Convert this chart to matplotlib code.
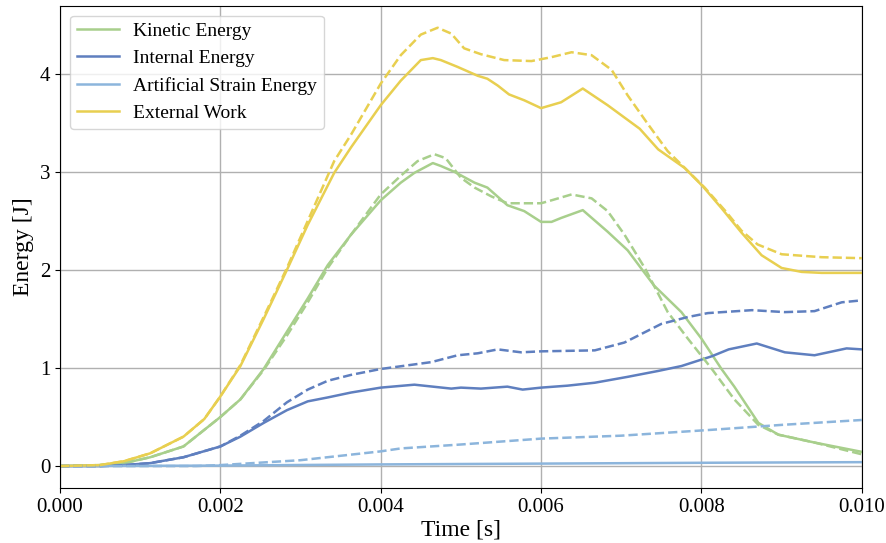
import numpy as np
import matplotlib
matplotlib.use("Agg")
import matplotlib.pyplot as plt

plt.rcParams['font.family'] = ['Liberation Serif', 'DejaVu Serif']
plt.rcParams['mathtext.fontset'] = 'stix'

# values, time in seconds, energy in J
t_ext = [0, 0.0005, 0.0008, 0.001125, 0.00154, 0.0018, 0.002, 0.00225, 0.00254, 0.00283, 0.00309,
         0.00342, 0.00363, 0.004, 0.00425, 0.0045, 0.00465, 0.00475, 0.00496, 0.00521, 0.00533,
         0.00546, 0.0056, 0.00579, 0.006, 0.00625, 0.00652, 0.00683, 0.00723, 0.00746, 0.00779,
         0.00802, 0.00825, 0.0085, 0.00875, 0.009, 0.00925, 0.0095, 0.01]
ext_solid = [0, 0.01, 0.05, 0.13, 0.30, 0.48, 0.71, 1.02, 1.5, 2.0, 2.46,
             2.99, 3.25, 3.68, 3.93, 4.14, 4.16, 4.14, 4.07, 3.98, 3.95,
             3.88, 3.79, 3.73, 3.65, 3.71, 3.85, 3.68, 3.44, 3.23, 3.04,
             2.85, 2.63, 2.38, 2.15, 2.02, 1.98, 1.97, 1.97]

t_ext_d = [0, 0.0005, 0.0008, 0.001125, 0.00154, 0.0018, 0.002, 0.00225, 0.00254, 0.00283, 0.00309,
           0.00342, 0.00363, 0.004, 0.00425, 0.0045, 0.00471, 0.00488, 0.00504, 0.00525, 0.00554,
           0.00588, 0.00613, 0.00638, 0.00663, 0.00688, 0.00708, 0.00733, 0.00758, 0.00783, 0.00804,
           0.0083, 0.0085, 0.0087, 0.009, 0.0095, 0.01]
ext_dash = [0, 0.01, 0.05, 0.13, 0.30, 0.48, 0.71, 1.03, 1.52, 2.02, 2.5,
            3.11, 3.38, 3.9, 4.19, 4.40, 4.47, 4.41, 4.26, 4.20, 4.14,
            4.13, 4.17, 4.22, 4.19, 4.04, 3.78, 3.49, 3.21, 3.01, 2.84,
            2.6, 2.4, 2.26, 2.16, 2.13, 2.12]

t_kin = [0, 0.0005, 0.0008, 0.001125, 0.00154, 0.002, 0.00225, 0.00254, 0.00283, 0.00309,
         0.00334, 0.00363, 0.004, 0.00425, 0.00442, 0.00465, 0.00475, 0.00492, 0.00517, 0.00533,
         0.00558, 0.00579, 0.006, 0.00613, 0.00625, 0.00652, 0.00683, 0.00708, 0.00741, 0.00775,
         0.008, 0.00825, 0.00841, 0.00871, 0.00896, 0.00941, 0.01]
kin_solid = [0, 0.01, 0.03, 0.09, 0.2, 0.5, 0.68, 0.99, 1.37, 1.71,
             2.05, 2.36, 2.71, 2.89, 2.99, 3.09, 3.06, 3.0, 2.89, 2.84,
             2.66, 2.60, 2.49, 2.49, 2.53, 2.61, 2.39, 2.20, 1.84, 1.57,
             1.30, 0.99, 0.81, 0.44, 0.32, 0.24, 0.145]

t_kin_d = [0, 0.0005, 0.0008, 0.001125, 0.00154, 0.002, 0.00225, 0.00254, 0.00283, 0.00309,
           0.00334, 0.00363, 0.004, 0.00425, 0.00446, 0.00467, 0.00481, 0.005, 0.00517, 0.00538,
           0.00558, 0.00588, 0.006, 0.00613, 0.00638, 0.00663, 0.00683, 0.00704, 0.0073, 0.00758,
           0.00783, 0.00813, 0.00841, 0.00871, 0.00896, 0.00941, 0.01]
kin_dash = [0, 0.01, 0.03, 0.09, 0.2, 0.5, 0.68, 0.98, 1.33, 1.67,
            2.02, 2.36, 2.77, 2.96, 3.11, 3.18, 3.14, 2.94, 2.84, 2.75,
            2.68, 2.68, 2.68, 2.71, 2.77, 2.73, 2.60, 2.36, 2.01, 1.57,
            1.30, 0.99, 0.68, 0.42, 0.32, 0.24, 0.12]

t_int = [0, 0.0005, 0.0008, 0.001125, 0.00154, 0.002, 0.00225, 0.00254, 0.00283, 0.00309,
         0.00334, 0.00363, 0.004, 0.00442, 0.00488, 0.005, 0.00525, 0.00558, 0.00577, 0.006,
         0.00633, 0.00667, 0.00708, 0.00746, 0.00775, 0.00813, 0.00834, 0.00869, 0.00904, 0.00941,
         0.00981, 0.01]
int_solid = [0, 0.0, 0.01, 0.03, 0.09, 0.2, 0.3, 0.44, 0.57, 0.66,
             0.70, 0.75, 0.80, 0.83, 0.79, 0.80, 0.79, 0.81, 0.78, 0.80,
             0.82, 0.85, 0.91, 0.97, 1.02, 1.12, 1.19, 1.25, 1.16, 1.13,
             1.20, 1.19]

t_int_d = [0, 0.0005, 0.0008, 0.001125, 0.00154, 0.002, 0.00225, 0.00254, 0.00283, 0.00309,
           0.00334, 0.00363, 0.004, 0.00463, 0.00496, 0.00521, 0.00546, 0.00575, 0.006, 0.00667,
           0.00704, 0.0075, 0.00783, 0.00808, 0.00863, 0.00904, 0.00941, 0.00975, 0.01]
int_dash = [0, 0.0, 0.01, 0.03, 0.09, 0.2, 0.31, 0.46, 0.65, 0.78,
            0.87, 0.93, 0.99, 1.06, 1.13, 1.15, 1.19, 1.16, 1.17, 1.18,
            1.26, 1.45, 1.52, 1.56, 1.59, 1.57, 1.58, 1.67, 1.69]

t_art = [0, 0.002, 0.004, 0.00813, 0.01]
art_solid = [0, 0.005, 0.017, 0.034, 0.04]

t_art_d = [0, 0.0017, 0.002, 0.003, 0.004, 0.00425, 0.005, 0.006, 0.007, 0.00813,
           0.009, 0.01]
art_dash = [0, 0.0, 0.01, 0.06, 0.15, 0.18, 0.22, 0.28, 0.31, 0.37,
            0.42, 0.47]

c_kin = '#a8cf8c'
c_int = '#5f7fbf'
c_art = '#8cb5dc'
c_ext = '#e8cf50'

fig = plt.figure(figsize=(8.86, 5.43), dpi=100)
ax = fig.add_axes([0.0677, 0.1013, 0.905, 0.888])

lw = 1.8
ax.plot(t_kin, kin_solid, color=c_kin, lw=lw, label='Kinetic Energy')
ax.plot(t_int, int_solid, color=c_int, lw=lw, label='Internal Energy')
ax.plot(t_art, art_solid, color=c_art, lw=lw, label='Artificial Strain Energy')
ax.plot(t_ext, ext_solid, color=c_ext, lw=lw, label='External Work')
ax.plot(t_kin_d, kin_dash, color=c_kin, lw=lw, ls='--')
ax.plot(t_int_d, int_dash, color=c_int, lw=lw, ls='--')
ax.plot(t_art_d, art_dash, color=c_art, lw=lw, ls='--')
ax.plot(t_ext_d, ext_dash, color=c_ext, lw=lw, ls='--')

ax.set_xlim(0, 0.01)
ax.set_xticks([0, 0.002, 0.004, 0.006, 0.008, 0.01])
ax.set_xticklabels(['0.000', '0.002', '0.004', '0.006', '0.008', '0.010'])
ax.set_yticks([0, 1, 2, 3, 4])
ax.grid(True, color='#b0b0b0', lw=1)
ax.set_axisbelow(True)
ax.tick_params(labelsize=15)
ax.set_xlabel('Time [s]', fontsize=17, labelpad=2)
ax.set_ylabel('Energy [J]', fontsize=17, labelpad=4)
ax.legend(loc='upper left', fontsize=14, framealpha=0.8, handlelength=2.2,
          borderaxespad=0.5, labelspacing=0.5, handletextpad=0.7, borderpad=0.35)

fig.savefig('out.png', dpi=100)
